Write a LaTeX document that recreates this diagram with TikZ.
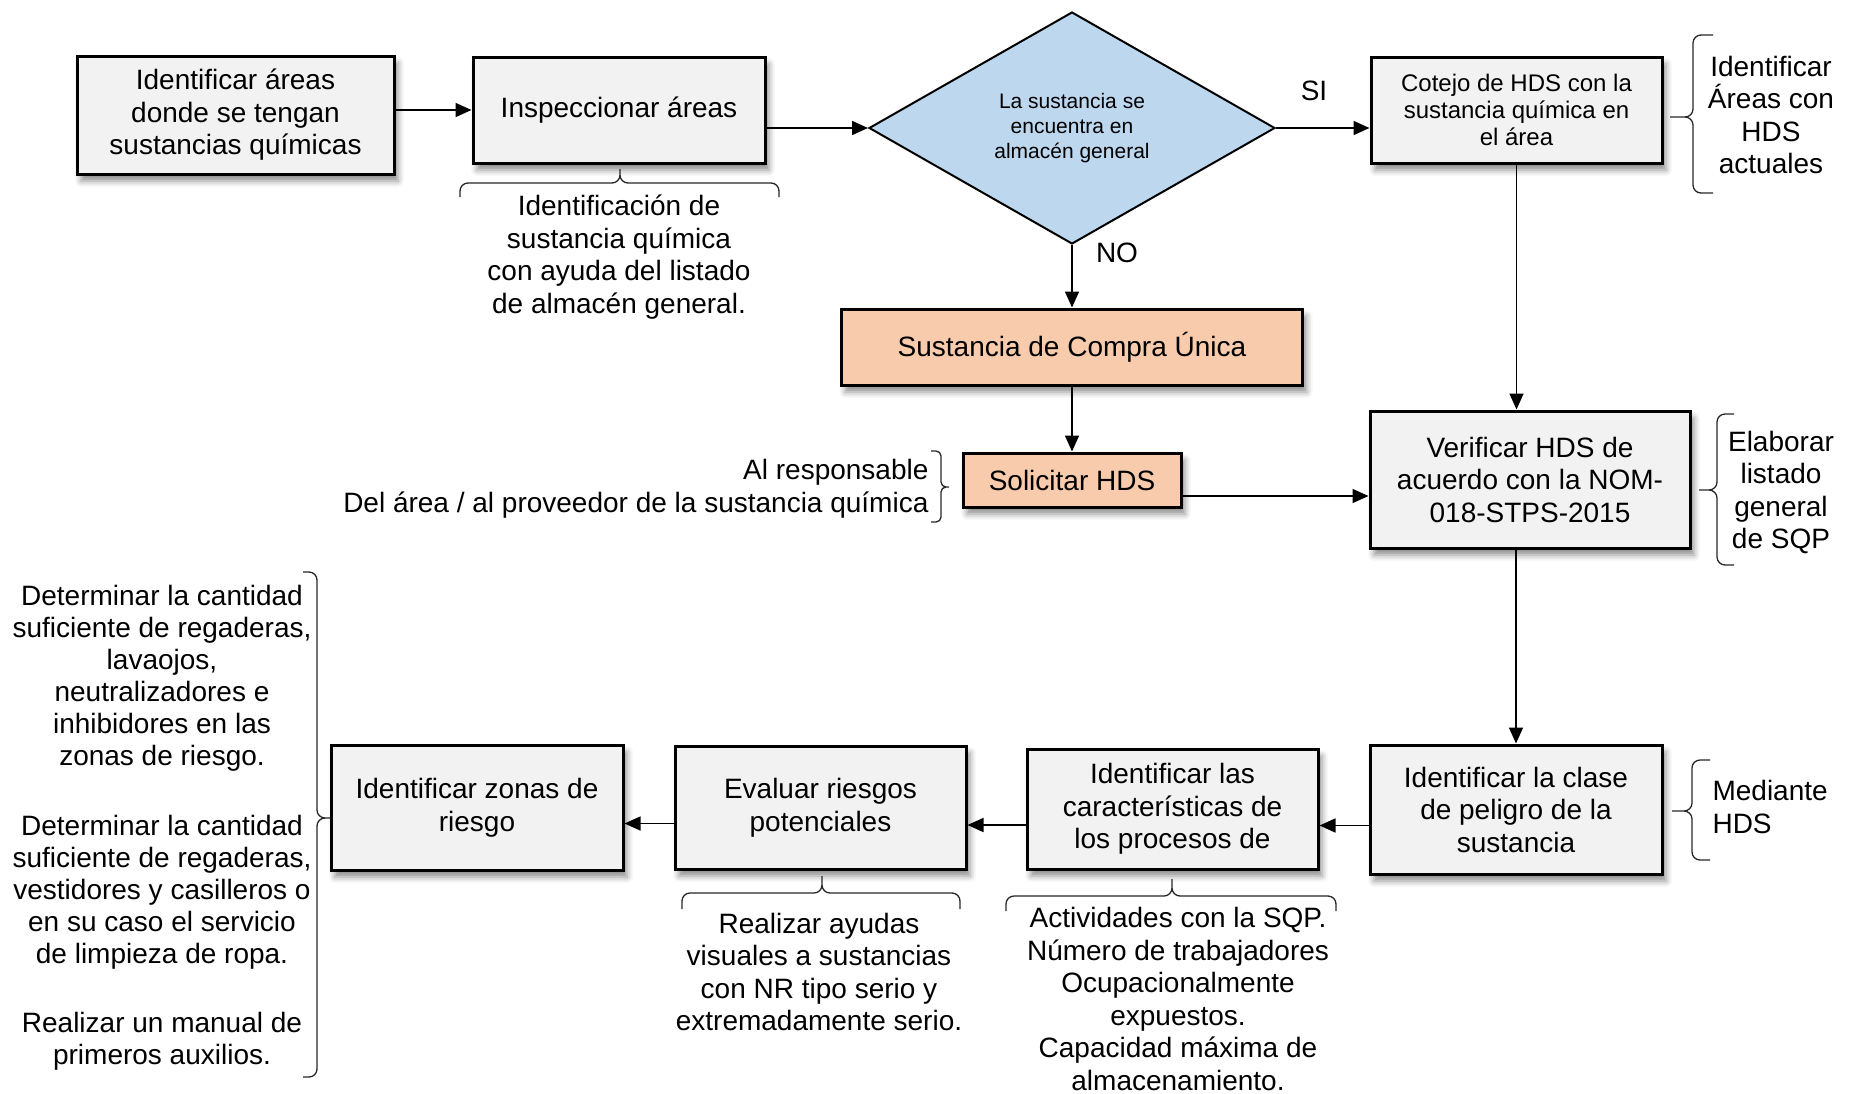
\documentclass[tikz,border=0pt]{standalone}
\usepackage{fontspec}
\setmainfont{Liberation Sans}
\usetikzlibrary{shapes.geometric,arrows.meta,shadows.blur}
\definecolor{cajagris}{HTML}{F2F2F2}
\definecolor{cajanaranja}{HTML}{F8CBAD}
\definecolor{rombo}{HTML}{BDD7EE}

\begin{document}
\begin{tikzpicture}[x=1pt,y=1pt,
    proc/.style={draw,rectangle,line width=3pt,fill=cajagris,align=center,inner sep=2pt,
      font=\fontsize{28}{32.5}\selectfont,
      blur shadow={shadow xshift=4pt,shadow yshift=-7pt,shadow blur radius=6pt,shadow opacity=45}},
    accent/.style={proc,fill=cajanaranja},
    decision/.style={draw,diamond,aspect=1.75,line width=2pt,fill=rombo,align=center,inner sep=0pt,
      minimum width=406pt,minimum height=232pt,font=\fontsize{21}{25}\selectfont},
    note/.style={align=center,font=\fontsize{28}{32.5}\selectfont},
    flecha/.style={-{Triangle[length=16pt,width=14pt]},line width=1.6pt},
    llave/.style={line width=1.3pt,rounded corners=#1,black!85},
    llave/.default=8pt]
    \useasboundingbox (0,0) rectangle (1856,-1093);

    % fila superior
    \node[proc,minimum width=317pt,minimum height=118pt] (areas) at (235.5,-115) {Identificar áreas\\donde se tengan\\sustancias químicas};
    \node[proc,minimum width=292pt,minimum height=106pt] (inspec) at (619,-110) {Inspeccionar áreas};
    \node[decision] (dec) at (1072,-128) {La sustancia se\\encuentra en\\almacén general};
    \node[proc,minimum width=291pt,minimum height=106pt,font=\fontsize{24}{27}\selectfont] (cotejo) at (1516.5,-110) {Cotejo de HDS con la\\sustancia química en\\el área};
    \node[note] (si) at (1314,-91) {SI};
    \node[note] (no) at (1117,-253) {NO};

    % rama NO
    \node[accent,minimum width=461pt,minimum height=76pt] (compra) at (1072,-347) {Sustancia de Compra Única};
    \node[accent,minimum width=218pt,minimum height=54pt] (solicitar) at (1072,-480) {Solicitar HDS};
    \node[proc,minimum width=320pt,minimum height=137pt] (verificar) at (1530,-479.5) {Verificar HDS de\\acuerdo con la NOM-\\018-STPS-2015};

    % fila inferior
    \node[proc,minimum width=292pt,minimum height=129pt] (clase) at (1516,-809.5) {Identificar la clase\\de peligro de la\\sustancia};
    \node[proc,minimum width=291pt,minimum height=120pt] (caract) at (1172.5,-809) {Identificar las\\características de\\los procesos de};
    \node[proc,minimum width=291pt,minimum height=123pt] (evaluar) at (820.5,-807.5) {Evaluar riesgos\\potenciales};
    \node[proc,minimum width=292pt,minimum height=125pt] (zonas) at (477,-807.5) {Identificar zonas de\\riesgo};

    % conectores
    \draw[flecha] (areas.east |- inspec.west) -- (inspec.west);
    \draw[flecha] (inspec.east |- dec.west) -- (dec.west);
    \draw[flecha] (dec.east) -- (dec.east -| cotejo.west);
    \draw[flecha] (dec.south) -- (compra.north);
    \draw[flecha] (compra.south) -- (solicitar.north);
    \draw[flecha] ([yshift=-16pt]solicitar.east) -- ([yshift=-16pt]solicitar.east -| verificar.west);
    \draw[flecha] (cotejo.south) -- (cotejo.south |- verificar.north);
    \draw[flecha] (clase.north |- verificar.south) -- (clase.north);
    \draw[flecha] ([yshift=-16pt]clase.west) -- ([yshift=-16pt]clase.west -| caract.east);
    \draw[flecha] ([yshift=-16pt]caract.west) -- ([yshift=-16pt]caract.west -| evaluar.east);
    \draw[flecha] ([yshift=-16pt]evaluar.west) -- ([yshift=-16pt]evaluar.west -| zonas.east);

    % llaves y notas
    \draw[llave] (460,-197) -- (460,-183) -- (620,-183) -- (620,-169) (620,-169) -- (620,-183) -- (779,-183) -- (779,-197);
    \node[note] (notainspec) at (619,-257) {Identificación de\\sustancia química\\con ayuda del listado\\de almacén general.};
    \draw[llave] (1713,-35) -- (1693,-35) -- (1693,-117) -- (1670,-117) (1670,-117) -- (1693,-117) -- (1693,-193) -- (1713,-193);
    \node[note] (notacotejo) at (1771,-115) {Identificar\\Áreas con\\HDS\\actuales};
    \draw[llave=5pt] (931,-451) -- (941,-451) -- (941,-487) -- (949,-487) (949,-487) -- (941,-487) -- (941,-522) -- (931,-522);
    \node[note,align=right,anchor=east] (notasolicitar) at (932,-489) {Al responsable\\Del área / al proveedor de la sustancia química};
    \draw[llave] (1734,-414) -- (1717,-414) -- (1717,-490) -- (1699,-490) (1699,-490) -- (1717,-490) -- (1717,-565) -- (1734,-565);
    \node[note] (notaverificar) at (1781,-492.5) {Elaborar\\listado\\general\\de SQP};
    \draw[llave] (1710,-760) -- (1692,-760) -- (1692,-811) -- (1672,-811) (1672,-811) -- (1692,-811) -- (1692,-860) -- (1710,-860);
    \node[note,align=left,anchor=west] (notaclase) at (1709,-807) {Mediante\\HDS};
    \draw[llave] (1006,-911) -- (1006,-896) -- (1172,-896) -- (1172,-879) (1172,-879) -- (1172,-896) -- (1336,-896) -- (1336,-911);
    \node[note] (notacaract) at (1178,-999) {Actividades con la SQP.\\Número de trabajadores\\Ocupacionalmente\\expuestos.\\Capacidad máxima de\\almacenamiento.};
    \draw[llave] (682,-909) -- (682,-893) -- (822,-893) -- (822,-876) (822,-876) -- (822,-893) -- (960,-893) -- (960,-909);
    \node[note] (notaevaluar) at (819,-972) {Realizar ayudas\\visuales a sustancias\\con NR tipo serio y\\extremadamente serio.};
    \draw[llave] (303,-572) -- (317,-572) -- (317,-818) -- (330,-818) (330,-818) -- (317,-818) -- (317,-1077) -- (303,-1077);
    \node[note,font=\fontsize{28}{32}\selectfont] (notazonas) at (162,-828) {Determinar la cantidad\\suficiente de regaderas,\\lavaojos,\\neutralizadores e\\inhibidores en las\\zonas de riesgo.\\[38pt]Determinar la cantidad\\suficiente de regaderas,\\vestidores y casilleros o\\en su caso el servicio\\de limpieza de ropa.\\[36.6pt]Realizar un manual de\\primeros auxilios.};
\end{tikzpicture}
\end{document}
